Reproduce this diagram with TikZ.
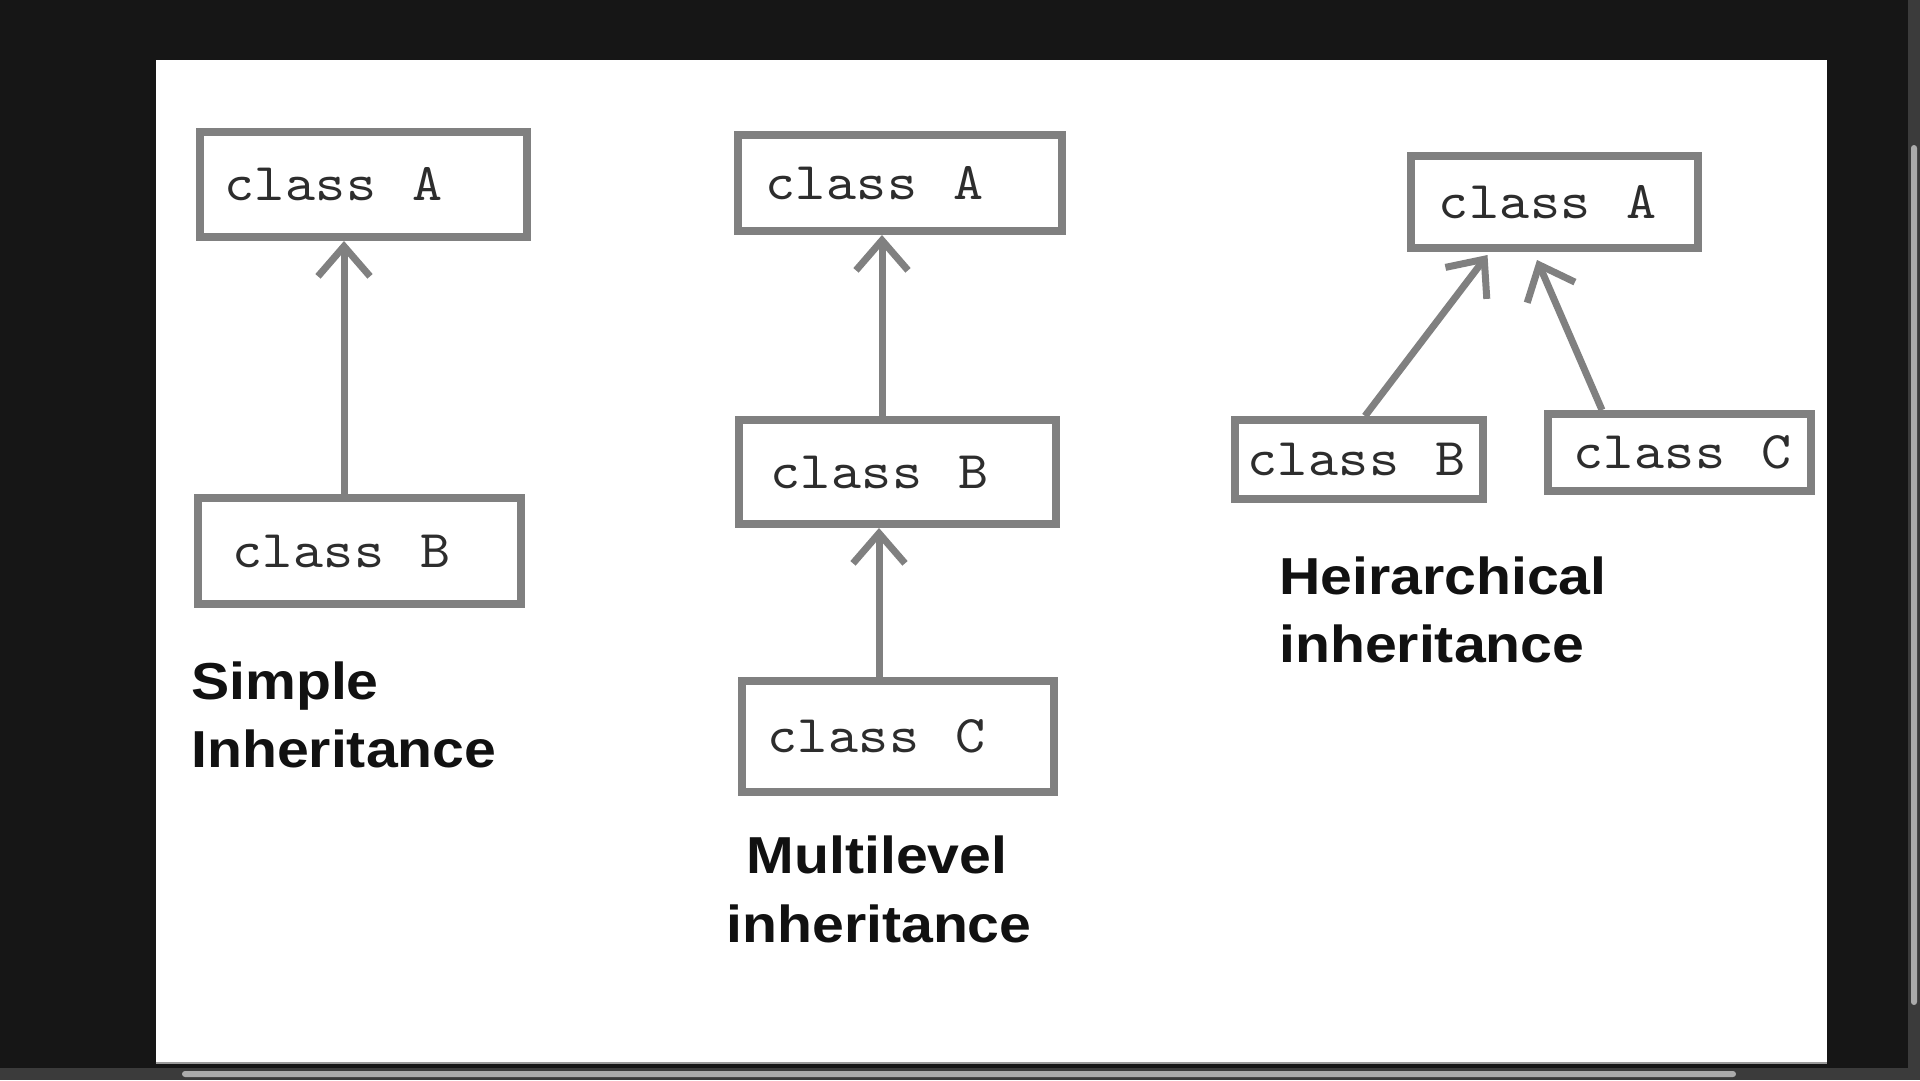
\documentclass[tikz,border=0pt]{standalone}
\usepackage{fontspec}
\usetikzlibrary{arrows.meta}
\newfontfamily\lblfont{Liberation Sans}[FakeStretch=1.1]
\newfontfamily\boxfont{lmmono10-regular.otf}[FakeStretch=1.08,LetterSpace=1,WordSpace=1.45]
\newcommand\gapx{\hspace{18pt}}
\definecolor{bgdark}{RGB}{22,22,22}
\definecolor{bargray}{RGB}{59,59,59}
\definecolor{thumb}{RGB}{171,171,171}
\definecolor{boxc}{RGB}{128,128,128}
\definecolor{txtc}{RGB}{45,45,45}
\definecolor{lblc}{RGB}{17,17,17}
\tikzset{
  cls/.style={draw=boxc, line width=8pt, fill=white, inner xsep=0pt, inner ysep=0pt,
    align=left, text=txtc, font=\boxfont\fontsize{53}{53}\selectfont},
  lbl/.style={inner sep=0pt, text=lblc, font=\lblfont\bfseries\fontsize{52}{52}\selectfont},
  arr/.style={draw=boxc, line width=7pt, -{Straight Barb[length=30pt,width=52pt]}}
}
\begin{document}
\begin{tikzpicture}[x=1pt,y=-1pt]
\useasboundingbox (0,0) rectangle (1920,1080);
% window chrome
\fill[bgdark] (0,0) rectangle (1920,1080);
\fill[bargray] (0,1068) rectangle (1920,1080);
\fill[bargray] (1908,0) rectangle (1920,1080);
\fill[thumb, rounded corners=3pt] (182,1071) rectangle (1736,1077);
\fill[thumb, rounded corners=3pt] (1911,145) rectangle (1917,1005);
\fill[white] (155.5,60) rectangle (1827,1064);
\draw[boxc!80, line width=1.5pt] (155.5,1063) -- (1827,1063);

% Simple inheritance
\node[cls, text width=327pt, minimum height=105pt] (sA) at (363.5,184.5) {\hspace*{24pt}class \gapx A};
\node[cls, text width=323pt, minimum height=106pt] (sB) at (359.5,551) {\hspace*{34pt}class \gapx B};
\draw[arr] ([xshift=-15.5pt]sB.north) -- ([xshift=-15.5pt]sB.north |- sA.south);
\node[lbl, anchor=base west] (sL1) at (191,699) {Simple};
\node[lbl, anchor=base west] (sL2) at (191,767) {Inheritance};

% Multilevel inheritance
\node[cls, text width=324pt, minimum height=96pt] (mA) at (900,183) {\hspace*{27pt}class \gapx A};
\node[cls, text width=317pt, minimum height=104pt] (mB) at (897.5,472) {\hspace*{31pt}class \gapx B};
\node[cls, text width=312pt, minimum height=111pt] (mC) at (898,736.5) {\hspace*{25pt}class \gapx C};
\draw[arr] ([xshift=-15.5pt]mB.north) -- ([xshift=-15.5pt]mB.north |- mA.south);
\draw[arr] ([xshift=-19pt]mC.north) -- ([xshift=-19pt]mC.north |- mB.south);
\node[lbl, anchor=base] (mL1) at (877,873) {Multilevel};
\node[lbl, anchor=base] (mL2) at (879,942) {inheritance};

% Hierarchical inheritance
\node[cls, text width=287pt, minimum height=92pt] (hA) at (1554.5,202) {\hspace*{27.5pt}class \gapx A};
\node[cls, text width=248pt, minimum height=79pt] (hB) at (1359,459.5) {\hspace*{12pt}class \gapx B};
\node[cls, text width=263pt, minimum height=77pt] (hC) at (1679.5,452.5) {\hspace*{25pt}class \gapx C};
\draw[arr] ([xshift=6pt]hB.north) -- ([xshift=-67pt,yshift=-3pt]hA.south);
\draw[arr] ([xshift=-77.5pt]hC.north) -- ([xshift=-17.5pt,yshift=-8pt]hA.south);
\node[lbl, anchor=base west] (hL1) at (1279,594) {Heirarchical};
\node[lbl, anchor=base west] (hL2) at (1279,662) {inheritance};
\end{tikzpicture}
\end{document}
